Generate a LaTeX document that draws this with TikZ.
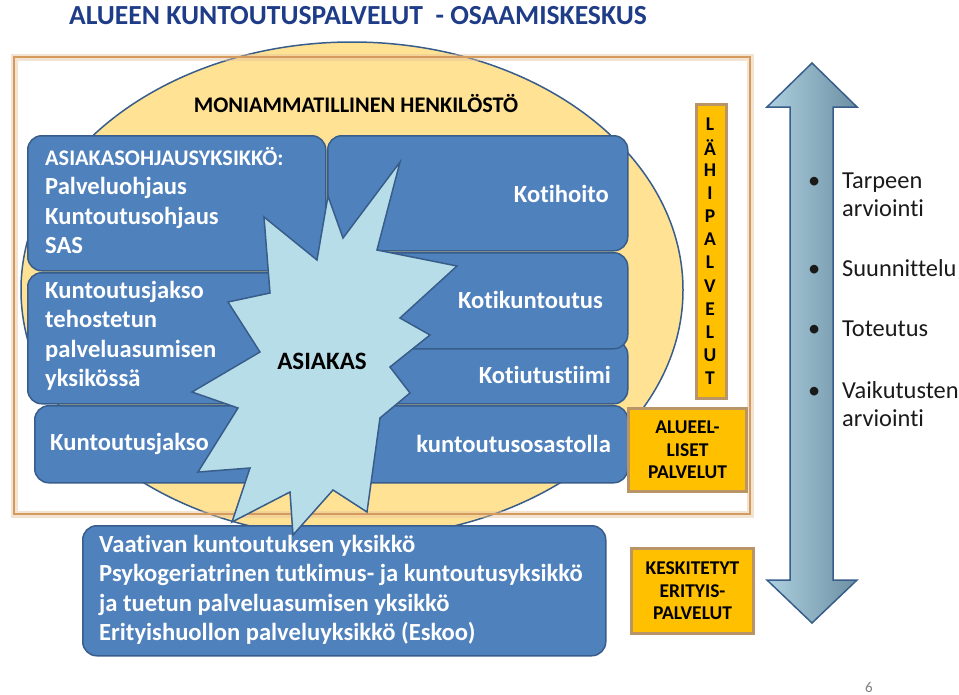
\documentclass[tikz,border=0pt]{standalone}
\usepackage{fontspec}
\setmainfont{Carlito}[Ligatures=NoCommon]
\usepackage{xcolor}
\usepackage{tikz}
\usetikzlibrary{positioning}
\definecolor{TitleBlue}{HTML}{1F3C88}
\definecolor{BoxBlue}{HTML}{4F81BD}
\definecolor{BoxEdge}{HTML}{385D8A}
\definecolor{CircleYellow}{HTML}{FFE294}
\definecolor{StarBlue}{HTML}{B7DEE8}
\definecolor{FrameTan}{HTML}{D49A5E}
\definecolor{GoldFill}{HTML}{FFC000}
\definecolor{GoldGlow}{HTML}{B99466}
\definecolor{ArrowLight}{HTML}{AED0E0}
\definecolor{ArrowDark}{HTML}{6C90A3}
\definecolor{TextDark}{HTML}{1A1A1A}

\begin{document}
\begin{tikzpicture}[x=1pt, y=-1pt,
    bluebox/.style={draw=BoxEdge, fill=BoxBlue, line width=1.5pt, rounded corners=14pt,
      anchor=north west, inner sep=0pt},
    boxtext/.style={text=white, font=\fontsize{24.6}{29.5}\selectfont\bfseries, inner sep=0pt},
    goldbox/.style={fill=GoldFill, draw=GoldGlow, line width=3pt, anchor=north west, inner sep=0pt},
    goldtext/.style={font=\fontsize{19.5}{22.5}\selectfont\bfseries, text=black, align=center, inner sep=0pt},
    listtext/.style={font=\fontsize{24.4}{28}\selectfont, text=TextDark, anchor=base west, inner sep=0pt}]
  \useasboundingbox (0,0) rectangle (959,694);

  % title
  \node[anchor=base west, text=TitleBlue, font=\fontsize{27.6}{30}\selectfont\bfseries, inner sep=0pt]
    (title) at (69,24) {ALUEEN KUNTOUTUSPALVELUT\ \ - OSAAMISKESKUS};

  % yellow circle and frame
  \draw[draw=BoxEdge, fill=CircleYellow, line width=1.5pt] (352,290) ellipse [x radius=331pt, y radius=248pt];
  \draw[FrameTan!60!white, line width=7pt, opacity=0.45] (14,57) rectangle (750,514);
  \draw[FrameTan, line width=2.5pt] (14,57) rectangle (750,514);

  \node[font=\fontsize{22.3}{26}\selectfont\bfseries, text=black, inner sep=0pt]
    (henkilosto) at (356,103) {MONIAMMATILLINEN HENKILÖSTÖ};

  % left column
  \node[bluebox, minimum width=298pt, minimum height=135pt] (ohjaus) at (27,135) {};
  \node[bluebox, minimum width=298pt, minimum height=131pt] (tehostettu) at (27,272) {};
  \node[bluebox, minimum width=297pt, minimum height=77pt] (jakso) at (34,405) {};
  \node[boxtext, anchor=north west, align=left] (ohjausteksti) at (45,147)
    {{\fontsize{22.3}{29.5}\selectfont ASIAKASOHJAUSYKSIKKÖ:}\\Palveluohjaus\\Kuntoutusohjaus\\SAS};
  \node[boxtext, anchor=north west, align=left] (tehostettuteksti) at (45,281)
    {Kuntoutusjakso\\tehostetun\\palveluasumisen\\yksikössä};
  \node[boxtext, anchor=base west] (jaksoteksti) at (50,450) {Kuntoutusjakso};

  % right column
  \node[bluebox, minimum width=300pt, minimum height=115pt] (kotihoito) at (327,135) {};
  \node[bluebox, minimum width=300pt, minimum height=63pt] (kotiutus) at (327,340) {};
  \node[bluebox, minimum width=300pt, minimum height=96pt] (kotikuntoutus) at (327,252) {};
  \node[bluebox, minimum width=297pt, minimum height=77pt] (osasto) at (330,405) {};
  \node[boxtext, anchor=base east] (kotihoitoteksti) at (609,202) {Kotihoito};
  \node[boxtext, anchor=base east] (kotikuntoutusteksti) at (603,308) {Kotikuntoutus};
  \node[boxtext, anchor=base east] (kotiutusteksti) at (611,383) {Kotiutustiimi};
  \node[boxtext, anchor=base east] (osastoteksti) at (611,452) {kuntoutusosastolla};

  % gold boxes
  \node[goldbox, minimum width=30pt, minimum height=294pt] (lahi) at (695,103) {};
  \foreach \ch [count=\i from 0] in {L,Ä,H,I,P,A,L,V,E,L,U,T}
    \node[goldtext] (lahi\i) at (710,{124+23.1*\i}) {\ch};
  \node[goldbox, minimum width=118pt, minimum height=83pt] (alueelliset) at (627,407) {};
  \node[goldtext] (alueteksti) at (alueelliset.center) {ALUEEL-\\LISET\\PALVELUT};
  \node[goldbox, minimum width=122pt, minimum height=85pt] (keskitetyt) at (630,547) {};
  \node[goldtext] (keskiteksti) at (keskitetyt.center) {KESKITETYT\\ERITYIS-\\PALVELUT};

  % bottom box
  \node[bluebox, minimum width=523pt, minimum height=130pt] (erityis) at (82,525) {};
  \node[boxtext, anchor=north west, align=left] (erityisteksti) at (99,535)
    {Vaativan kuntoutuksen yksikkö\\Psykogeriatrinen tutkimus- ja kuntoutusyksikkö\\
     ja tuetun palveluasumisen yksikkö\\Erityishuollon palveluyksikkö (Eskoo)};

  % client star
  \draw[draw=BoxEdge, fill=StarBlue, line width=1.5pt, line join=miter]
    (400,162) -- (377,250) -- (457,266) -- (400,318) -- (430,335) -- (390,367)
    -- (410,393) -- (380,418) -- (367,512) -- (333,490) -- (293,535) -- (290,492)
    -- (232,522) -- (250,468) -- (198,472) -- (238,408) -- (192,392) -- (260,352)
    -- (228,302) -- (270,293) -- (264,217) -- (317,260) -- (328,196) -- (343,238) -- cycle;
  \node[font=\fontsize{25}{29}\selectfont\bfseries, text=black, inner sep=0pt] (asiakas) at (322,361) {ASIAKAS};

  % process arrow
  \draw[draw=BoxEdge, line width=1.5pt, left color=ArrowLight, right color=ArrowDark]
    (812,63) -- (857,107) -- (833,107) -- (833,580) -- (857,580) -- (812,623)
    -- (767,580) -- (790,580) -- (790,107) -- (767,107) -- cycle;
  \foreach \t/\yy/\dot in {Tarpeen/188/1, arviointi/216/0, Suunnittelu/276/1,
      Toteutus/336/1, Vaikutusten/398/1, arviointi/426/0}{
    \node[listtext] at (842,\yy) {\t};
    \ifnum\dot=1 \node[listtext] at (808,\yy) {\textbullet}; \fi
  }

  \node[text=gray, font=\fontsize{15}{18}\selectfont, inner sep=0pt] (sivu) at (869,687) {6};
\end{tikzpicture}
\end{document}
